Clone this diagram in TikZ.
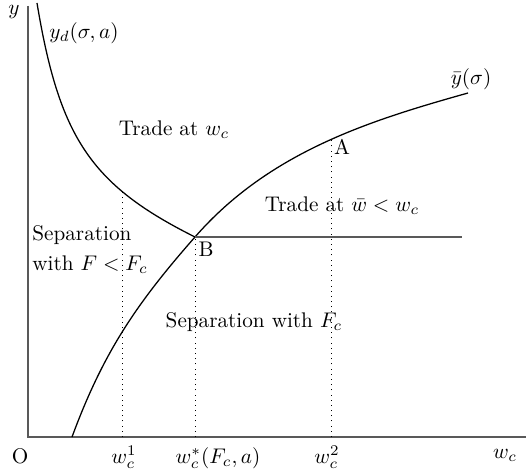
\documentclass[tikz,border=0pt]{standalone}
\begin{document}
\begin{tikzpicture}[x=0.472pt,y=-0.472pt,
  axis/.style={black!65,line width=0.8pt},
  curve/.style={black,line width=0.6pt},
  guide/.style={dotted,line width=0.45pt}]
\useasboundingbox (0,0) rectangle (526,468);
% axes
\coordinate (O) at (28,437);
\coordinate (ytop) at (28,6);
\coordinate (xend) at (526,437);
\draw[axis] (ytop) -- (O) -- (xend);
\node[inner sep=1pt] (ylab) at (14,12) {$y$};
\node[anchor=base] (Olab) at (20,463) {O};
\node[anchor=base] (xlab) at (505,458) {$w_c$};
% points
\coordinate (B) at (195,237);
\coordinate (A) at (331,139);
\coordinate (P1) at (122,192);
\coordinate (Bend) at (462,237);
\coordinate (ydtop) at (37,3);
\coordinate (ybot) at (72,437);
\coordinate (ytopr) at (468,93);
\coordinate (w1) at (122,437);
\coordinate (wstar) at (195,437);
\coordinate (w2) at (331,437);
% curves
\draw[curve] (ydtop) .. controls (59.4,138) and (91,185) .. (B);
\draw[curve] (ybot) .. controls (103,353) and (136,304) .. (B)
  .. controls (270,151) and (372,120) .. (ytopr);
\draw[axis] (B) -- (Bend);
\draw[guide] (w1) -- (P1);
\draw[guide] (wstar) -- (B);
\draw[guide] (w2) -- (A);
% labels
\node (yd) at (84,33) {$y_d(\sigma,a)$};
\node (ybar) at (471,79) {$\bar y(\sigma)$};
\node (Alab) at (342,147) {A};
\node (Blab) at (206,249) {B};
\node[anchor=base] (lw1) at (124,463) {$w_c^1$};
\node[anchor=base] (lwstar) at (218,463) {$w_c^*(F_c,a)$};
\node[anchor=base] (lw2) at (327,463) {$w_c^2$};
\node[anchor=base] (tradewc) at (174,135) {Trade at $w_c$};
\node[anchor=base] (tradewbar) at (342,211) {Trade at $\bar w<w_c$};
\node[anchor=base] (sepFc) at (254,327) {Separation with $F_c$};
\node[anchor=north west,inner sep=0pt,align=left] (sepF) at (32,225) {Separation\\[2pt]with $F<F_c$};
\end{tikzpicture}
\end{document}
